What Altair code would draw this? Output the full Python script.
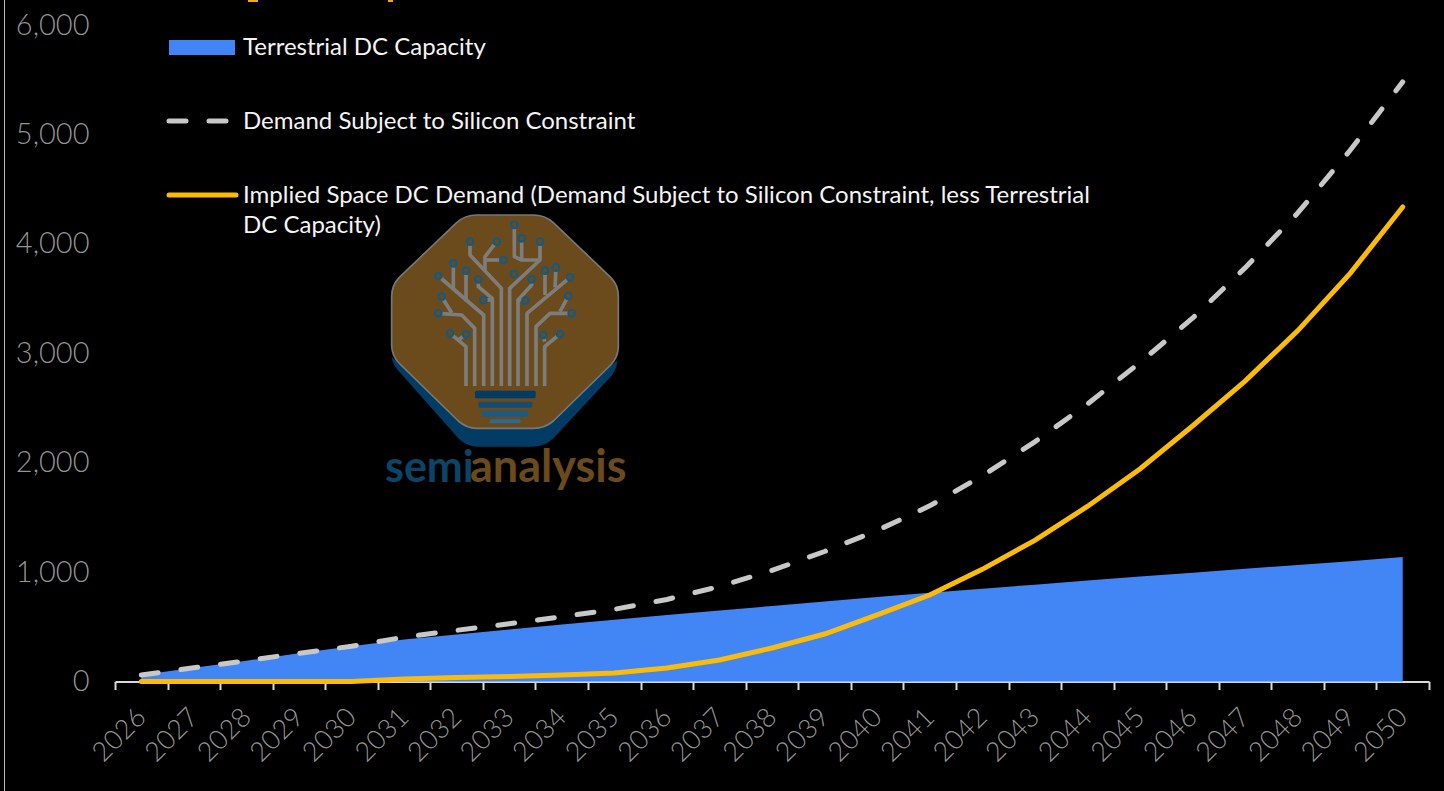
import base64

import altair as alt
import pandas as pd

years = list(range(2026, 2051))
terrestrial = [60, 125, 190, 258, 322, 385, 430, 475, 520, 565, 608, 650, 690, 732, 772,
               812, 848, 885, 922, 960, 995, 1030, 1065, 1100, 1137]
demand = [60, 125, 190, 258, 322, 405, 468, 527, 592, 660, 750, 868, 1015, 1188, 1380,
          1605, 1880, 2190, 2535, 2915, 3320, 3780, 4280, 4855, 5480]
implied = [0, 0, 0, 0, 0, 22, 36, 46, 60, 78, 123, 197, 306, 434, 608,
           790, 1025, 1290, 1600, 1942, 2335, 2745, 3205, 3730, 4337]

FONT = "Lato"
BLUE = "#4285f4"
GOLD = "#fbbc09"
DASH = "#c8c8c8"
GREY = "#9a9a9a"
TITLE_ORANGE = "#f5a623"

MARGIN_LEFT, MARGIN_TOP = 115, 25
PLOT_W, PLOT_H = 1314, 656.5

df = pd.DataFrame({"year": years, "terrestrial": terrestrial, "demand": demand, "implied": implied})

x_enc = alt.X(
    "year:O",
    bandPosition=0.5,
    scale=alt.Scale(type="band", paddingInner=0, paddingOuter=0),
    axis=alt.Axis(
        title=None, labelAngle=315, labelFont=FONT, labelFontSize=27, labelColor=GREY,
        labelOpacity=0.99, labelPadding=14, labelOffset=-9, labelFontWeight=300,
        tickBand="extent", tickColor="#d9d9d9", tickSize=8, tickWidth=2,
        domainColor="#d9d9d9", domainWidth=2, grid=False, labelOverlap=False,
    ),
)
y_scale = alt.Scale(domain=[0, 6000], nice=False)
y_axis = alt.Axis(
    title=None, values=[0, 1000, 2000, 3000, 4000, 5000, 6000], format=",.0f", labelFont=FONT,
    labelFontSize=29, labelFontWeight=300, labelColor=GREY, labelOpacity=0.99, labelPadding=26,
    domain=False, ticks=False, grid=False,
)


def px(x, y):
    """Page-pixel position expressed relative to the plot origin."""
    return alt.value(x - MARGIN_LEFT), alt.value(y - MARGIN_TOP)


def page_rect(x0, x1, y0, y1, color):
    """Rectangle placed in page pixels, for decoration outside the data."""
    return alt.Chart(pd.DataFrame({"a": [0]})).mark_rect(color=color).encode(
        x=alt.value(x0 - MARGIN_LEFT), x2=alt.value(x1 - MARGIN_LEFT),
        y=alt.value(y0 - MARGIN_TOP), y2=alt.value(y1 - MARGIN_TOP),
    )


base = alt.Chart(df)
area = base.mark_area(color=BLUE).encode(
    x=x_enc, y=alt.Y("terrestrial:Q", scale=y_scale, axis=y_axis)
)
demand_line = base.mark_line(
    color=DASH, strokeWidth=5, strokeCap="round", strokeDash=[17, 23]
).encode(x=x_enc, y=alt.Y("demand:Q", scale=y_scale))
implied_line = base.mark_line(color=GOLD, strokeWidth=5, strokeCap="round").encode(
    x=x_enc, y=alt.Y("implied:Q", scale=y_scale)
)

# Thin rule near the left edge of the panel
edge = page_rect(4, 5, 0, 791, "#b8b8b8")

# Slivers of the heading that runs off the top of the panel
heading = [
    page_rect(248, 258, 0, 2, TITLE_ORANGE),
    page_rect(388, 393, 0, 2, TITLE_ORANGE),
]

# Hand-placed key
one = pd.DataFrame({"a": [0]})
key_swatch = page_rect(169, 235, 40, 55, BLUE)
key_dash = alt.Chart(one).mark_rule(
    color=DASH, strokeWidth=5, strokeCap="round", strokeDash=[17, 23]
).encode(
    x=alt.value(169 - MARGIN_LEFT), x2=alt.value(232 - MARGIN_LEFT), y=alt.value(121 - MARGIN_TOP)
)
key_gold = alt.Chart(one).mark_rule(color=GOLD, strokeWidth=5, strokeCap="round").encode(
    x=alt.value(169 - MARGIN_LEFT), x2=alt.value(236 - MARGIN_LEFT), y=alt.value(195 - MARGIN_TOP)
)


def label(text, x, y, size=24, color="#f4f4f4", weight=400, align="left"):
    lx, ly = px(x, y)
    return alt.Chart(pd.DataFrame({"t": [text]})).mark_text(
        font=FONT, fontSize=size, color=color, fontWeight=weight, align=align, baseline="alphabetic"
    ).encode(x=lx, y=ly, text="t:N")


key_labels = [
    label("Terrestrial DC Capacity", 243, 55),
    label("Demand Subject to Silicon Constraint", 243, 129),
    label("Implied Space DC Demand (Demand Subject to Silicon Constraint, less Terrestrial", 243, 203),
    label("DC Capacity)", 243, 233),
]

# Company badge: octagon with circuit-tree bulb, in its own 840x900 drawing space
traces = [
    "288,558 288,440 240,400", "265,420 288,403",
    "314,558 314,385 275,345 205,340", "245,338 215,290",
    "341,558 341,345 205,228", "250,268 250,190", "288,305 288,212",
    "367,558 367,295 325,260 325,238", "340,300 367,300",
    "394,558 394,265 300,165 300,125", "345,215 345,170 380,125", "345,180 400,180",
    "419,558 419,265 510,180 510,125", "433,75 433,170 455,180 510,180", "455,180 455,115",
    "444,558 444,300 485,255 485,238", "444,298 466,300",
    "471,558 471,340 600,232", "525,285 525,212", "555,262 558,203",
    "498,558 498,380 540,340 605,340", "570,335 595,288",
    "524,558 524,440 570,402", "524,425 520,405",
]
nodes = [
    (240, 400), (288, 403), (205, 340), (215, 290), (205, 228), (250, 190), (288, 212), (325, 238),
    (340, 300), (300, 125), (380, 125), (400, 180), (510, 125), (433, 75), (455, 115), (432, 222),
    (485, 238), (466, 302), (600, 232), (525, 212), (558, 203), (605, 340), (595, 288), (570, 402),
    (520, 405),
]
octagon = (
    "M 320,45 L 490,45 Q 525,45 550,68 L 722,232 Q 745,255 745,290 L 745,440 Q 745,470 722,495 "
    "L 550,663 Q 525,685 490,685 L 320,685 Q 290,685 265,663 L 88,490 Q 65,468 65,435 "
    "L 65,290 Q 65,255 88,232 L 260,68 Q 285,45 320,45 Z"
)
shadow = (
    "M 65,470 Q 68,495 88,515 L 265,715 Q 290,740 320,740 L 490,740 Q 525,740 550,715 "
    "L 722,530 Q 740,510 742,480 L 600,600 L 200,600 Z"
)
bars = [(315, 572, 182, 23, "#023c64"), (325, 605, 162, 18, "#134d75"),
        (335, 632, 140, 18, "#1b5a85"), (360, 658, 92, 12, "#2a6a96")]

svg = ['<svg xmlns="http://www.w3.org/2000/svg" viewBox="0 0 840 900" width="840" height="900">']
svg.append(f'<path d="{shadow}" fill="#023c64"/>')
svg.append(f'<path d="{octagon}" fill="#6b4a1c" stroke="#777" stroke-width="5"/>')
for t in traces:
    svg.append(f'<polyline points="{t}" fill="none" stroke="#7d7d7d" stroke-width="11" stroke-linejoin="round"/>')
for cx, cy in nodes:
    svg.append(f'<circle cx="{cx}" cy="{cy}" r="10" fill="#6b4a1c" stroke="#0e5a8c" stroke-width="6"/>')
for bx, by, bw, bh, bc in bars:
    svg.append(f'<rect x="{bx}" y="{by}" width="{bw}" height="{bh}" rx="5" fill="{bc}"/>')
svg.append("</svg>")
badge_uri = "data:image/svg+xml;base64," + base64.b64encode("".join(svg).encode()).decode()

bx_, by_ = px(510, 350)
badge = alt.Chart(pd.DataFrame({"u": [badge_uri]})).mark_image(width=280, height=300).encode(
    x=bx_, y=by_, url="u:N"
)
word_semi = label("semi", 385, 482, size=43, color="#0c4468", weight=700)
word_rest = label("analysis", 470, 482, size=45, color="#6b4a1c", weight=700)

chart = alt.layer(
    edge, *heading, area, demand_line, implied_line, badge, word_semi, word_rest,
    key_swatch, key_dash, key_gold, *key_labels,
).properties(
    width=PLOT_W, height=PLOT_H,
    autosize=alt.AutoSizeParams(type="none"),
    padding={"left": MARGIN_LEFT, "top": MARGIN_TOP, "right": 15, "bottom": 109.5},
    background="#000000",
).configure_view(stroke=None)

chart.save("out.html", embed_options={"renderer": "svg", "actions": False})
